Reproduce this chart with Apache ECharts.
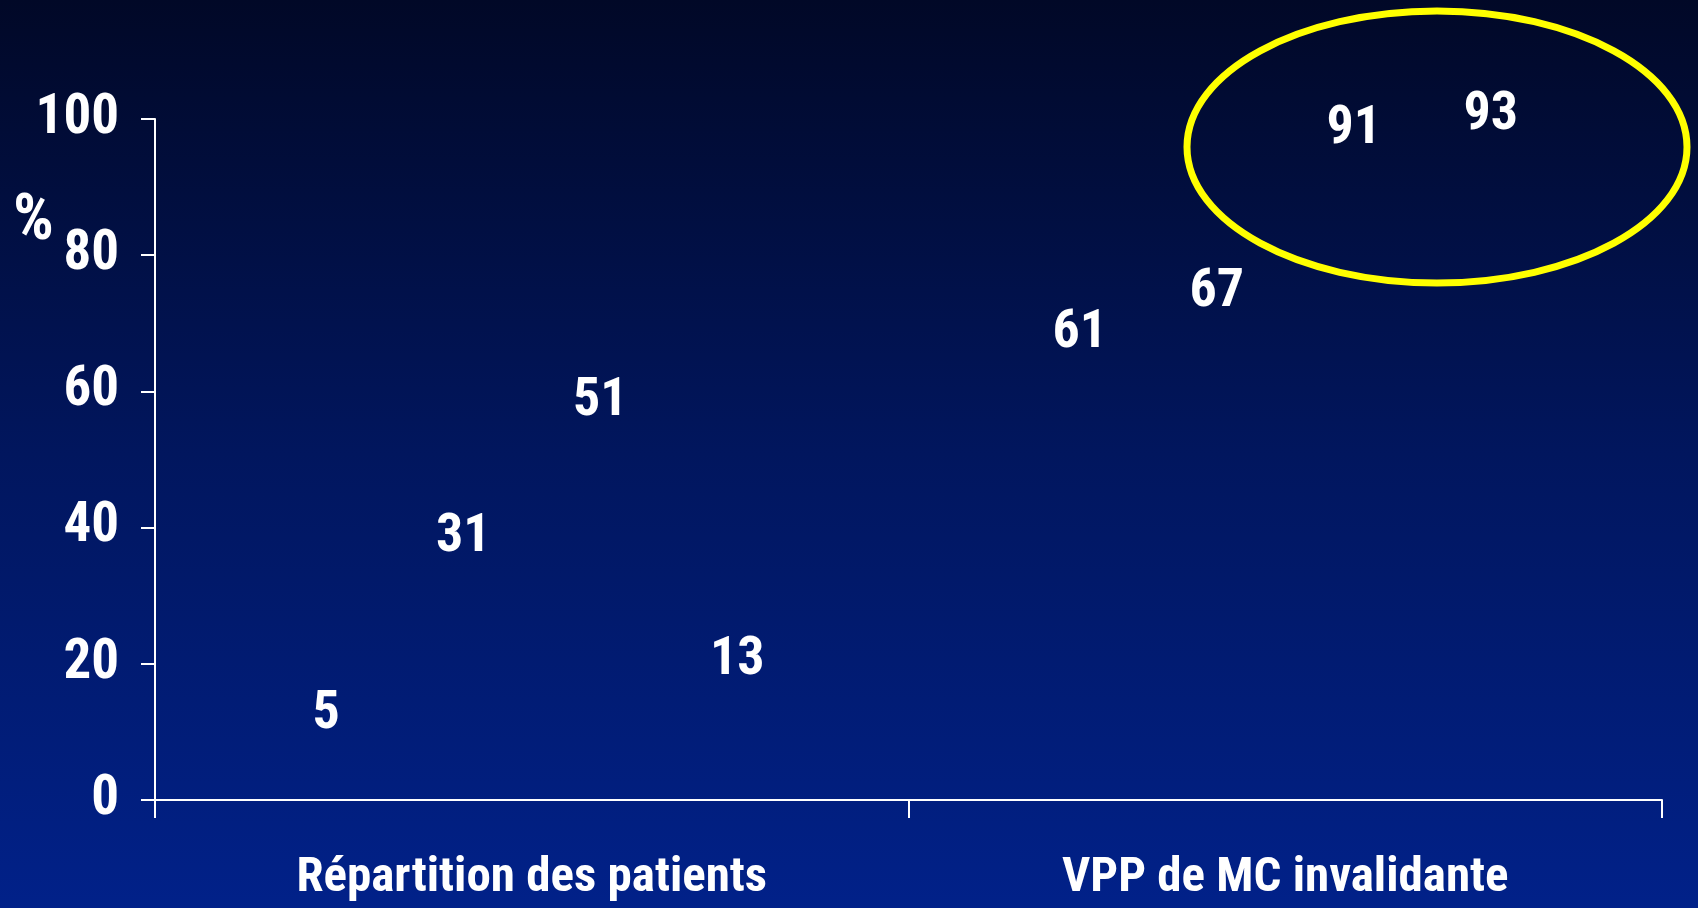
<!DOCTYPE html>
<html>
<head>
<meta charset="utf-8">
<script src="https://cdn.jsdelivr.net/npm/echarts@6/dist/echarts.min.js"></script>
<style>
  html, body { margin: 0; padding: 0; }
  #chart { width: 1698px; height: 908px; }
</style>
</head>
<body>
<div id="chart"></div>
<script>
// Categories on the x axis
const categories = ['Répartition des patients', 'VPP de MC invalidante'];

// One series per patient group; each holds its value for both categories
const group1 = [5, 61];
const group2 = [31, 67];
const group3 = [51, 91];
const group4 = [13, 93];

// Value axis ticks
const yTicks = [0, 20, 40, 60, 80, 100];

const FONT = '"Roboto Condensed", "Open Sans Condensed", "Liberation Sans", Arial, sans-serif';

const chart = echarts.init(document.getElementById('chart'), null, { renderer: 'canvas' });

function groupSeries(name, values) {
  return {
    name: name,
    type: 'bar',
    data: values,
    barWidth: 100,
    barGap: '37%',
    itemStyle: { color: 'rgba(0,0,0,0)' },
    label: {
      show: true,
      position: 'top',
      distance: 24,
      color: '#ffffff',
      fontFamily: FONT,
      fontWeight: 'bold',
      fontSize: 54
    },
    animation: false
  };
}

chart.setOption({
  backgroundColor: {
    type: 'linear', x: 0, y: 0, x2: 0, y2: 1,
    colorStops: [
      { offset: 0, color: '#010827' },
      { offset: 0.5, color: '#01165e' },
      { offset: 1, color: '#012189' }
    ]
  },
  animation: false,
  grid: { left: 155, right: 36, top: 119, bottom: 108, containLabel: false },
  xAxis: {
    type: 'category',
    data: categories,
    boundaryGap: true,
    axisLine: { lineStyle: { color: '#ffffff', width: 2 } },
    axisTick: { show: true, length: 18, lineStyle: { color: '#ffffff', width: 2 } },
    axisLabel: {
      color: '#ffffff',
      fontFamily: FONT,
      fontWeight: 'bold',
      fontSize: 49,
      margin: 54
    }
  },
  yAxis: {
    type: 'value',
    min: yTicks[0],
    max: yTicks[yTicks.length - 1],
    interval: yTicks[1] - yTicks[0],
    splitLine: { show: false },
    axisLine: { show: true, lineStyle: { color: '#ffffff', width: 2 } },
    axisTick: { show: true, length: 14, lineStyle: { color: '#ffffff', width: 2 } },
    axisLabel: {
      color: '#ffffff',
      fontFamily: FONT,
      fontWeight: 'bold',
      fontSize: 55,
      margin: 36
    }
  },
  graphic: [
    {
      type: 'text',
      left: 13,
      top: 191,
      style: {
        text: '%',
        fill: '#ffffff',
        font: 'bold 64px ' + FONT
      }
    },
    {
      type: 'ellipse',
      shape: { cx: 1437, cy: 147, rx: 250, ry: 136 },
      style: { fill: 'none', stroke: '#ffff00', lineWidth: 7 }
    }
  ],
  series: [
    groupSeries('Groupe 1', group1),
    groupSeries('Groupe 2', group2),
    groupSeries('Groupe 3', group3),
    groupSeries('Groupe 4', group4)
  ]
});
</script>
</body>
</html>
